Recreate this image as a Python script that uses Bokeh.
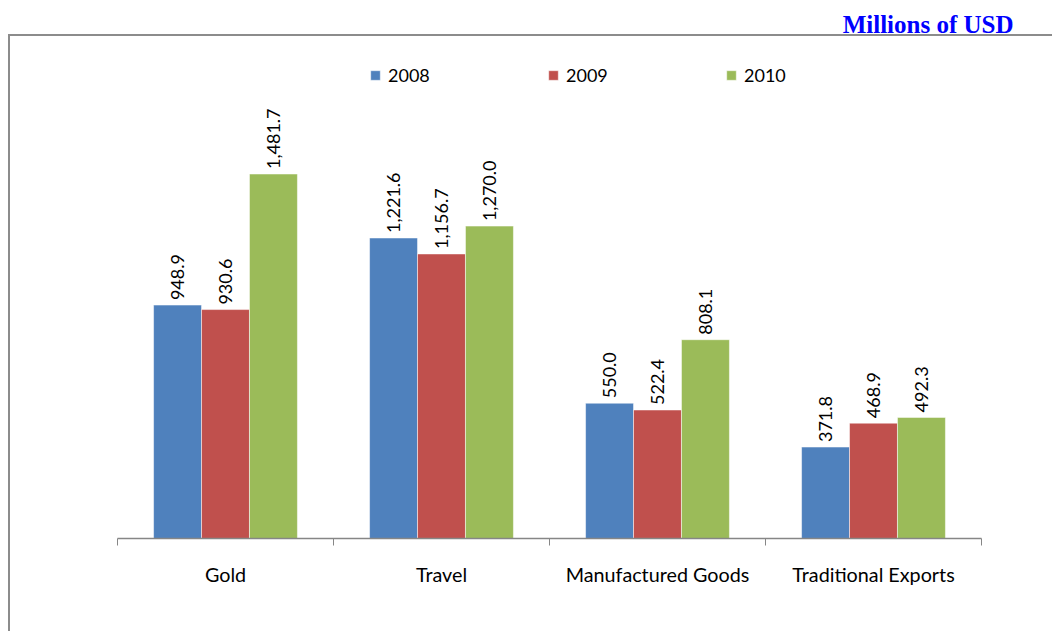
import math
from bokeh.plotting import figure
from bokeh.models import (ColumnDataSource, Range1d, FixedTicker, Legend, LegendItem,
                          InlineStyleSheet)
from bokeh.core.properties import value
from bokeh.transform import dodge
from bokeh.embed import file_html
from bokeh.resources import INLINE

categories = ["Gold", "Travel", "Manufactured Goods", "Traditional Exports"]
years = ["2008", "2009", "2010"]
values_2008 = [948.9, 1221.6, 550.0, 371.8]
values_2009 = [930.6, 1156.7, 522.4, 468.9]
values_2010 = [1481.7, 1270.0, 808.1, 492.3]
colors = ["#4F81BD", "#C0504D", "#9BBB59"]
title_text = "Millions of USD"

series = [values_2008, values_2009, values_2010]
centers = [i + 0.5 for i in range(len(categories))]

FONT = "Lato"

border_css = InlineStyleSheet(css="""
:host { position: relative; }
:host::after {
  content: "";
  position: absolute;
  left: 8px; top: 34px; right: 0px; bottom: 0px;
  border-left: 2px solid #8c8c8c;
  border-top: 2px solid #8c8c8c;
  pointer-events: none;
}
""")

p = figure(width=1052, height=631, output_backend="svg", toolbar_location=None,
           x_range=Range1d(0, len(categories)), y_range=Range1d(0, 2000),
           min_border_left=117, min_border_right=71, min_border_top=45,
           min_border_bottom=93, stylesheets=[border_css])
p.outline_line_color = None
p.xgrid.visible = False
p.ygrid.visible = False
p.yaxis.visible = False

p.title.text = title_text
p.title.align = "right"
p.title.offset = -32
p.title.standoff = 17
p.title.text_line_height = 1.0
p.title.text_font = "Liberation Serif"
p.title.text_font_style = "bold"
p.title.text_font_size = "25px"
p.title.text_color = "#0000FF"

bar_w = 0.222
offsets = [-bar_w, 0.0, bar_w]
items = []
for yr, vals, col, off in zip(years, series, colors, offsets):
    src = ColumnDataSource(dict(x=centers, top=vals,
                                lab=["{:,.1f}".format(v) for v in vals]))
    r = p.vbar(x=dodge("x", off), top="top", width=bar_w, bottom=0, source=src,
               fill_color=col, line_color="#ffffff", line_alpha=0.5, line_width=1)
    p.text(x=dodge("x", off), y="top", text="lab", source=src, angle=math.pi / 2,
           text_align="left", text_baseline="middle", y_offset=-5,
           text_font=value(FONT), text_font_size="18px", text_color="#000000")
    items.append(LegendItem(label=yr, renderers=[r]))

ax = p.xaxis[0]
ax.ticker = FixedTicker(ticks=centers, minor_ticks=list(range(len(categories) + 1)))
ax.major_label_overrides = {c: name for c, name in zip(centers, categories)}
ax.major_tick_line_color = None
ax.major_tick_out = 0
ax.major_tick_in = 0
ax.minor_tick_out = 7
ax.minor_tick_in = 0
ax.minor_tick_line_color = "#868686"
ax.axis_line_color = "#868686"
ax.axis_line_width = 1.5
ax.major_label_standoff = 17
ax.major_label_text_font = FONT
ax.major_label_text_font_size = "19.75px"
ax.major_label_text_color = "#000000"

legend = Legend(items=items, orientation="horizontal", location=(252, 452),
                glyph_width=12, glyph_height=12, label_standoff=7,
                label_width=149, spacing=10, padding=0, margin=0,
                border_line_color=None, background_fill_alpha=0,
                label_text_font=FONT, label_text_font_size="18px",
                label_text_color="#000000")
p.add_layout(legend, "center")

open("out.html", "w").write(file_html(p, INLINE))
